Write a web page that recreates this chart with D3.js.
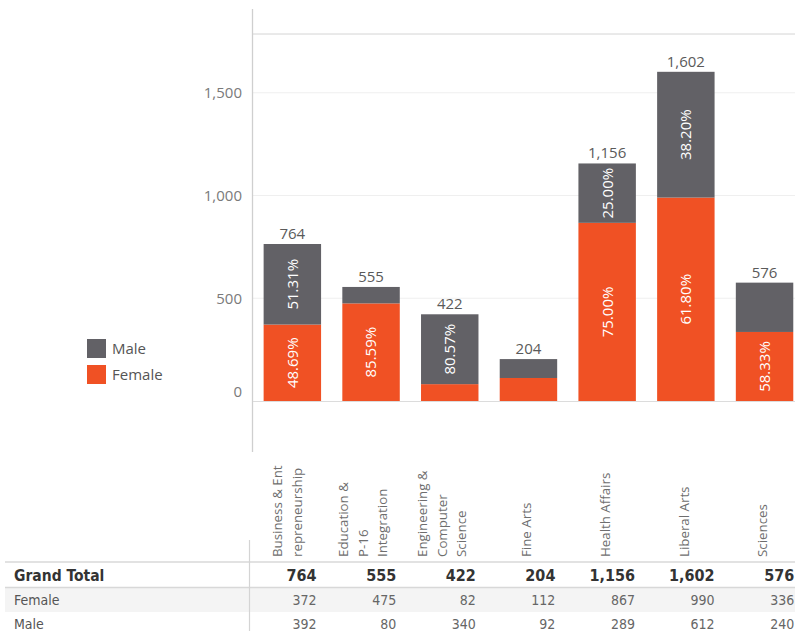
<!DOCTYPE html>
<html>
<head>
<meta charset="utf-8">
<script src="https://cdn.jsdelivr.net/npm/d3@7"></script>
<style>
  html, body { margin: 0; padding: 0; background: #fff; }
  svg { display: block; }
</style>
</head>
<body>
<svg id="chart" width="795" height="631"></svg>
<script>
// ---- data ----
const categories = ["Business & Entrepreneurship", "Education & P-16 Integration", "Engineering & Computer Science", "Fine Arts", "Health Affairs", "Liberal Arts", "Sciences"];
const categoryLabelLines = [["Business & Ent", "repreneurship"], ["Education &", "P-16", "Integration"], ["Engineering &", "Computer", "Science"], ["Fine Arts"], ["Health Affairs"], ["Liberal Arts"], ["Sciences"]];
const female = [372, 475, 82, 112, 867, 990, 336];
const male = [392, 80, 340, 92, 289, 612, 240];
const seriesNames = ["Male", "Female"];
const seriesColors = ["#626166", "#f05124"];
const yTicks = [0, 500, 1000, 1500];
const rowLabels = ["Grand Total", "Female", "Male"];

// ---- setup ----
const svg = d3.select("#chart");
const fmt = d3.format(",");
const pct = v => d3.format(".2f")(v) + "%";
const totals = categories.map((c, i) => female[i] + male[i]);

const x = d3.scaleBand().domain(categories).range([253, 253 + 7 * 78.7]).paddingInner(0.27).paddingOuter(0.135);
const tableX = d3.scaleBand().domain(categories).range([253, 253 + 7 * 79.6]);
const y = d3.scaleLinear().domain([0, 1786]).range([401, 34]);

const sans = "'Open Sans', 'DejaVu Sans', sans-serif";
const cond = "'DejaVu Sans Condensed', 'DejaVu Sans', sans-serif";

// top border & gridlines
svg.append("line").attr("x1", 253).attr("x2", 795).attr("y1", y(1786)).attr("y2", y(1786))
  .attr("stroke", "#d4d4d4").attr("stroke-width", 1);
svg.append("g").selectAll("line").data(yTicks.filter(d => d > 0)).join("line")
  .attr("x1", 253).attr("x2", 795).attr("y1", d => y(d)).attr("y2", d => y(d))
  .attr("stroke", "#efefef").attr("stroke-width", 1.2);

// y axis
const yAxis = svg.append("g").attr("transform", "translate(253,0)")
  .call(d3.axisLeft(y).tickValues(yTicks).tickFormat(fmt).tickSize(0).tickPadding(11));
yAxis.select(".domain").remove();
yAxis.selectAll("text").attr("font-family", sans).attr("font-size", 15).attr("fill", "#7a7a7a");
yAxis.selectAll(".tick").filter(d => d === 0).select("text").attr("dy", "-0.28em");

// axis vertical line
svg.append("line").attr("x1", 252.5).attr("x2", 252.5).attr("y1", 9).attr("y2", 452)
  .attr("stroke", "#cfcfcf").attr("stroke-width", 1.3);

// stacked bars
const stackData = categories.map((c, i) => ({cat: c, Female: female[i], Male: male[i], total: totals[i]}));
const stack = d3.stack().keys(["Female", "Male"])(stackData);
const colorOf = d3.scaleOrdinal().domain(seriesNames).range(seriesColors);

const layers = svg.append("g").selectAll("g").data(stack).join("g")
  .attr("fill", d => colorOf(d.key));
layers.selectAll("rect").data(d => d).join("rect")
  .attr("x", d => x(d.data.cat))
  .attr("width", x.bandwidth())
  .attr("y", d => y(d[1]))
  .attr("height", d => y(d[0]) - y(d[1]));

// baseline
svg.append("line").attr("x1", 253).attr("x2", 795).attr("y1", y(0) + 0.5).attr("y2", y(0) + 0.5)
  .attr("stroke", "#dcdcdc").attr("stroke-width", 1.2);

// percentage labels inside segments
stack.forEach(layer => {
  layer.forEach(d => {
    const h = y(d[0]) - y(d[1]);
    if (h < 54) return;
    const cx = x(d.data.cat) + x.bandwidth() / 2;
    const cy = (y(d[0]) + y(d[1])) / 2;
    svg.append("text")
      .attr("transform", `translate(${cx},${cy}) rotate(-90)`)
      .attr("text-anchor", "middle").attr("dy", "0.36em")
      .attr("font-family", sans).attr("font-size", 15).attr("fill", "#ffffff")
      .text(pct(d.data[layer.key] / d.data.total * 100));
  });
});

// totals above bars
svg.append("g").selectAll("text").data(stackData).join("text")
  .attr("x", d => x(d.cat) + x.bandwidth() / 2)
  .attr("y", d => y(d.total) - 5)
  .attr("text-anchor", "middle")
  .attr("font-family", sans).attr("font-size", 15).attr("fill", "#5a5a5a")
  .text(d => fmt(d.total));

// category labels (rotated)
categories.forEach((c, i) => {
  const lines = categoryLabelLines[i];
  const n = lines.length;
  const center = x(c) + x.bandwidth() / 2 - 2 - 3 * (n - 1);
  lines.forEach((ln, j) => {
    const lx = center + (j - (n - 1) / 2) * 19.5;
    svg.append("text")
      .attr("transform", `translate(${lx},557) rotate(-90)`)
      .attr("dy", "0.36em")
      .attr("font-family", sans).attr("font-size", 13.3).attr("fill", "#6e6e6e")
      .text(ln);
  });
});

// legend
const legend = svg.append("g").selectAll("g").data(seriesNames).join("g")
  .attr("transform", (d, i) => `translate(87,${339 + i * 26})`);
legend.append("rect").attr("width", 19).attr("height", 19).attr("fill", d => colorOf(d));
legend.append("text").attr("x", 25).attr("y", 10).attr("dy", "0.36em")
  .attr("font-family", sans).attr("font-size", 15).attr("fill", "#555")
  .text(d => d);

// ---- table ----
const rowY = [575, 600, 624];
svg.append("rect").attr("x", 5).attr("y", 588).attr("width", 790).attr("height", 24).attr("fill", "#f4f4f4");
[562, 587.5].forEach(ly => {
  svg.append("line").attr("x1", 5).attr("x2", 795).attr("y1", ly).attr("y2", ly)
    .attr("stroke", "#d8d8d8").attr("stroke-width", 1.3);
});
svg.append("line").attr("x1", 249.5).attr("x2", 249.5).attr("y1", 540).attr("y2", 631)
  .attr("stroke", "#d4d4d4").attr("stroke-width", 1.2);

const rowValues = [totals, female, male];
rowLabels.forEach((lab, r) => {
  const bold = r === 0;
  svg.append("text").attr("x", 14).attr("y", rowY[r]).attr("dy", "0.36em")
    .attr("font-family", cond).attr("font-stretch", "condensed")
    .attr("font-size", bold ? 15.5 : 14).attr("font-weight", bold ? "bold" : "normal")
    .attr("fill", bold ? "#333" : "#555")
    .text(lab);
  svg.append("g").selectAll("text").data(categories).join("text")
    .attr("x", c => tableX(c) + tableX.step() - 16)
    .attr("y", rowY[r]).attr("dy", "0.36em")
    .attr("text-anchor", "end")
    .attr("font-family", cond).attr("font-stretch", "condensed")
    .attr("font-size", bold ? 16 : 14).attr("font-weight", bold ? "bold" : "normal")
    .attr("fill", bold ? "#333" : "#666")
    .text((c, i) => fmt(rowValues[r][i]));
});
</script>
</body>
</html>
